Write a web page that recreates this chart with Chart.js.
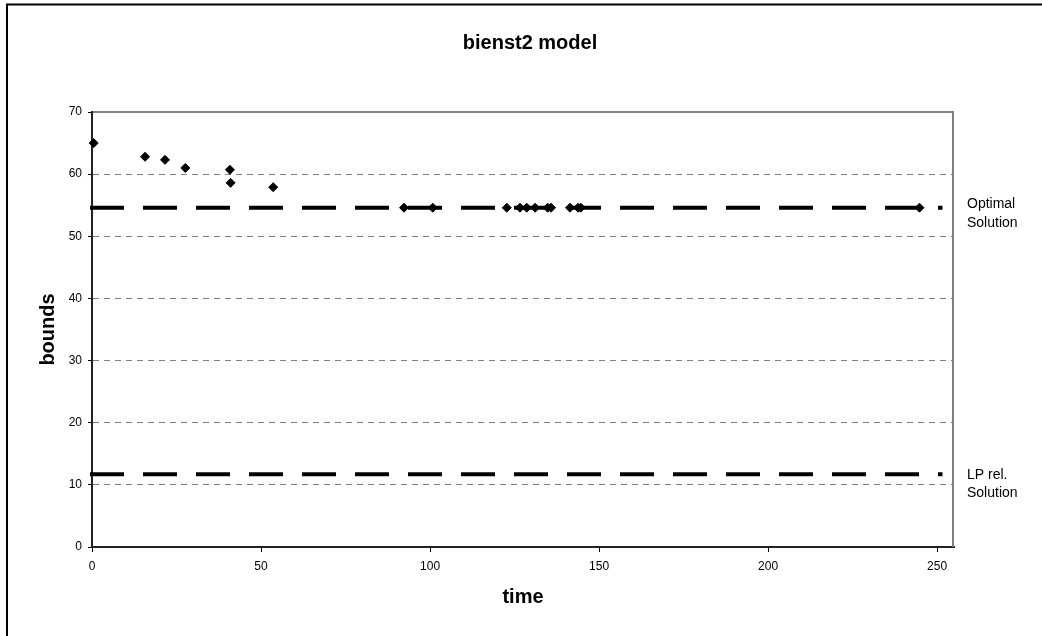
<!DOCTYPE html>
<html>
<head>
<meta charset="utf-8">
<title>bienst2 model</title>
<script src="https://cdn.jsdelivr.net/npm/chart.js@4.4.1/dist/chart.umd.min.js"></script>
<style>
  html, body { margin: 0; padding: 0; background: #fff; }
  #box { position: relative; width: 1042px; height: 636px; }
</style>
</head>
<body>
<div id="box"><canvas id="graph" width="1042" height="636"></canvas></div>
<script>
// textos
const chartTitle = "bienst2 model";
const xTitle = "time";
const yTitle = "bounds";

// cotas encontradas en el tiempo (rombos)
const boundTimes = [0.5, 15.7, 21.6, 27.6, 40.8, 41.0, 53.6, 92.3, 100.8, 122.7, 126.6, 128.6, 131.1, 134.8, 135.8, 141.4, 143.8, 144.6, 244.8];
const boundValues = [65.0, 62.8, 62.3, 61.0, 60.7, 58.6, 57.9, 54.6, 54.6, 54.6, 54.6, 54.6, 54.6, 54.6, 54.6, 54.6, 54.6, 54.6, 54.6];

// lineas de referencia
const refTimes = [0, 251];
const refValues = [54.6, 11.7];
const refNames = [["Optimal", "Solution"], ["LP rel.", "Solution"]];

// ejes
const xMin = 0, xMax = 255, xStep = 50;
const yMin = 0, yMax = 70, yStep = 10;

const fontFam = "'Liberation Sans', Arial, sans-serif";
Chart.defaults.font.family = fontFam;
Chart.defaults.color = "#000";

// fondo, marco exterior, borde gris del area y etiquetas de la derecha
const framePlugin = {
    id: "framePlugin",
    beforeDraw(chart) {
        let c = chart.ctx;
        c.save();
        c.fillStyle = "#fff";
        c.fillRect(0, 0, chart.width, chart.height);
        c.strokeStyle = "#000";
        c.lineWidth = 2;
        c.beginPath();
        c.moveTo(7, chart.height);
        c.lineTo(7, 4.5);
        c.lineTo(chart.width, 4.5);
        c.stroke();
        c.restore();
    },
    beforeDatasetsDraw(chart) {
        let c = chart.ctx, a = chart.chartArea;
        c.save();
        c.strokeStyle = "#808080";
        c.lineWidth = 2;
        c.beginPath();
        c.moveTo(a.left + 1, a.top);
        c.lineTo(a.right - 1, a.top);
        c.lineTo(a.right - 1, a.bottom);
        c.stroke();
        c.restore();
    },
    afterDatasetsDraw(chart) {
        let c = chart.ctx,
            yScale = chart.scales.y,
            right = chart.chartArea.right,
            nudge = [0.5, 4.6];
        c.save();
        c.font = "14px " + fontFam;
        c.fillStyle = "#000";
        c.textAlign = "left";
        c.textBaseline = "alphabetic";
        refValues.forEach((v, i) => {
            let py = yScale.getPixelForValue(v) + nudge[i];
            refNames[i].forEach((t, k) => c.fillText(t, right + 13, py + k * 18.4));
        });
        c.restore();
    }
};

const refLine = (label, value) => ({
    label: label,
    data: refTimes.map(t => ({ x: t, y: value })),
    showLine: true,
    borderColor: "#000",
    borderWidth: 4,
    borderDash: [30, 23],
    borderCapStyle: "square",
    pointRadius: 0,
    clip: false
});

const datasets = [
    {
        label: "bounds",
        data: boundTimes.map((t, i) => ({ x: t, y: boundValues[i] })),
        showLine: false,
        pointStyle: "rectRot",
        pointRadius: 4.5,
        pointBorderWidth: 1,
        pointBackgroundColor: "#000",
        pointBorderColor: "#000",
        clip: false
    },
    refLine(refNames[0].join(" "), refValues[0]),
    refLine(refNames[1].join(" "), refValues[1])
];

new Chart(document.getElementById("graph").getContext("2d"), {
    type: "scatter",
    data: { datasets: datasets },
    options: {
        responsive: false,
        animation: false,
        layout: { padding: { left: 18, right: 0, top: 0, bottom: 0 } },
        plugins: {
            legend: { display: false },
            tooltip: { enabled: false },
            title: {
                display: true,
                text: chartTitle,
                color: "#000",
                font: { size: 20, weight: "bold" },
                padding: { top: 31, bottom: 57 }
            }
        },
        scales: {
            x: {
                type: "linear",
                position: "bottom",
                min: xMin,
                max: xMax,
                afterFit: s => { s.height = 89; },
                ticks: { stepSize: xStep, includeBounds: false, padding: 7, color: "#000", font: { size: 12 }, maxRotation: 0 },
                grid: { drawOnChartArea: false, drawTicks: true, tickLength: 5, tickColor: "#000", tickWidth: 1 },
                border: { display: true, color: "#222", width: 2 },
                title: { display: true, text: xTitle, color: "#000", font: { size: 20, weight: "bold" }, padding: { top: 0, bottom: 27 } }
            },
            y: {
                type: "linear",
                position: "left",
                min: yMin,
                max: yMax,
                afterFit: s => { s.width = 74; },
                ticks: { stepSize: yStep, padding: 6, color: "#000", font: { size: 12 } },
                grid: {
                    color: ctx => (ctx.tick && (ctx.tick.value === yMin || ctx.tick.value === yMax)) ? "rgba(0,0,0,0)" : "#808080",
                    lineWidth: 1,
                    tickLength: 4,
                    tickColor: "#000",
                    tickWidth: 1
                },
                border: { display: true, color: "#222", width: 2, dash: [6, 5] },
                title: { display: true, text: yTitle, color: "#000", font: { size: 20, weight: "bold" }, padding: { top: 18, bottom: 0 } }
            },
            // eje vacio para dejar sitio a las etiquetas de la derecha
            yR: {
                type: "linear",
                position: "right",
                min: yMin,
                max: yMax,
                afterFit: s => { s.width = 88; },
                ticks: { display: false },
                grid: { display: false },
                border: { display: false }
            }
        }
    },
    plugins: [framePlugin]
});
</script>
</body>
</html>
